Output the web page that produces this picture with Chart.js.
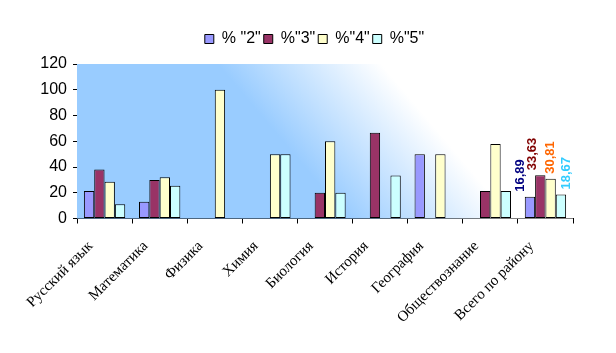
<!DOCTYPE html>
<html>
<head>
<meta charset="utf-8">
<script src="https://cdn.jsdelivr.net/npm/chart.js@4"></script>
<style>
  html, body { margin: 0; padding: 0; background: #ffffff; }
  #wrap { width: 616px; height: 353px; position: relative; }
</style>
</head>
<body>
<div id="wrap"><canvas id="c" width="616" height="353"></canvas></div>
<script>
const categories = ['Русский язык', 'Математика', 'Физика', 'Химия', 'Биология', 'История', 'География', 'Обществознание', 'Всего по району'];
const seriesNames = ['% "2"', '%"3"', '%"4"', '%"5"'];
const pct2 = [21.4, 13, null, null, null, null, 50, null, 16.89];
const pct3 = [38, 30, null, null, 20, 66.67, null, 21.4, 33.63];
const pct4 = [28.5, 32, 100, 50, 60, null, 50, 57.8, 30.81];
const pct5 = [11, 25.5, null, 50, 20, 33.33, null, 21.4, 18.67];
const yTicks = [0, 20, 40, 60, 80, 100, 120];
const labelledIndex = 8;

const fills = ['#9999FF', '#993366', '#FFFFCC', '#CCFFFF'];
const labelColors = ['#000080', '#800000', '#FF6600', '#33CCFF'];
const labelDx = [-10, -8, 0, 5];

const bgPlugin = {
  id: 'bgGrad',
  afterLayout(chart) {
    const lg = chart.legend;
    if (lg) { lg.left += 28; lg.right += 28; lg.top -= 7; lg.bottom -= 7; }
  },
  beforeDatasetsDraw(chart) {
    const ca = chart.chartArea;
    const ctx = chart.ctx;
    const dx = 0.764, dy = -0.645;
    const p0 = 125, p1 = 250;
    const g = ctx.createLinearGradient(dx * p0, dy * p0, dx * p1, dy * p1);
    g.addColorStop(0, '#99CCFF');
    g.addColorStop(1, '#FFFFFF');
    ctx.save();
    ctx.fillStyle = g;
    ctx.fillRect(ca.left, ca.top, ca.right - ca.left, ca.bottom - ca.top);
    ctx.restore();
  }
};

const valueLabels = {
  id: 'valueLabels',
  afterDatasetsDraw(chart) {
    const ctx = chart.ctx;
    ctx.save();
    ctx.font = 'bold 13px "Liberation Sans", Arial, sans-serif';
    ctx.textAlign = 'left';
    ctx.textBaseline = 'middle';
    chart.data.datasets.forEach((ds, i) => {
      const meta = chart.getDatasetMeta(i);
      const el = meta.data[labelledIndex];
      const v = ds.data[labelledIndex];
      if (!el || v == null) return;
      const txt = v.toFixed(2).replace('.', ',');
      ctx.save();
      ctx.translate(el.x + labelDx[i], el.y - 5);
      ctx.rotate(-Math.PI / 2);
      ctx.fillStyle = labelColors[i];
      ctx.fillText(txt, 0, 0);
      ctx.restore();
    });
    ctx.restore();
  }
};

const datasetsData = [pct2, pct3, pct4, pct5];

new Chart(document.getElementById('c'), {
  type: 'bar',
  data: {
    labels: categories,
    datasets: datasetsData.map((d, i) => ({
      label: seriesNames[i],
      data: d,
      backgroundColor: fills[i],
      borderColor: '#000000',
      borderWidth: 1,
      borderSkipped: false,
      categoryPercentage: 0.75,
      barPercentage: 1.0
    }))
  },
  options: {
    responsive: false,
    animation: false,
    devicePixelRatio: 1,
    layout: { padding: { left: 0, right: 43, top: 26, bottom: 0 } },
    plugins: {
      legend: {
        position: 'top',
        fullSize: true,
        labels: {
          boxWidth: 9,
          boxHeight: 9,
          padding: 3,
          color: '#000000',
          font: { family: '"Liberation Sans", Arial, sans-serif', size: 16 }
        }
      },
      tooltip: { enabled: false }
    },
    scales: {
      x: {
        grid: { display: true, drawOnChartArea: false, drawTicks: true, tickLength: 5, color: '#000000', offset: true },
        border: { display: true, color: '#000000', width: 1 },
        ticks: {
          minRotation: 45,
          maxRotation: 45,
          autoSkip: false,
          padding: 14,
          labelOffset: -14,
          color: '#000000',
          font: { family: '"Liberation Serif", "Times New Roman", serif', size: 15 }
        },
        afterFit(s) { s.height = 134.5; s.paddingLeft = 0; s.paddingRight = 0; }
      },
      y: {
        min: 0,
        max: 120,
        grid: { display: true, drawOnChartArea: false, drawTicks: true, tickLength: 4, color: '#000000' },
        border: { display: true, color: '#000000', width: 1 },
        afterBuildTicks(s) { s.ticks = yTicks.map(v => ({ value: v })); },
        ticks: {
          padding: 6,
          color: '#000000',
          font: { family: '"Liberation Sans", Arial, sans-serif', size: 16 }
        },
        afterFit(s) { s.width = 77; s.paddingTop = 64; }
      }
    }
  },
  plugins: [bgPlugin, valueLabels]
});
</script>
</body>
</html>
